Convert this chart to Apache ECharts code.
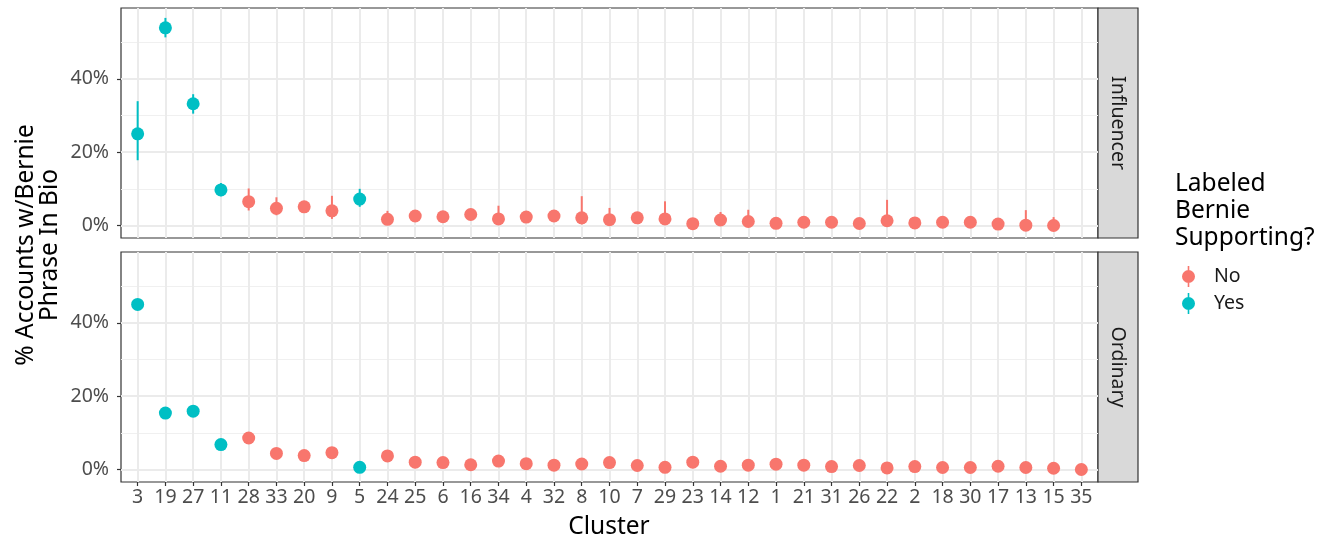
<!DOCTYPE html>
<html style="height: 100%">
<head>
<meta charset="utf-8"/>
<script src="https://cdn.jsdelivr.net/npm/echarts@6/dist/echarts.min.js"></script>
</head>
<body style="height: 100%; margin: 0; background: #fff">
<div id="container" style="width: 1333px; height: 540px"></div>
<script>
// cluster order on the x axis
var categories = ['3','19','27','11','28','33','20','9','5','24','25','6','16','34','4','32','8','10','7','29','23','14','12','1','21','31','26','22','2','18','30','17','13','15','35'];
// clusters labeled as Bernie supporting
var supporting = ['3','19','27','11','5'];

// Influencer panel (%), with interval ends
var influencerPct  = [25.0,53.9,33.2,9.7,6.5,4.7,5.1,4.0,7.2,1.7,2.6,2.4,3.0,1.8,2.3,2.6,2.1,1.6,2.1,1.8,0.5,1.5,1.1,0.6,0.9,0.9,0.55,1.3,0.7,0.9,0.9,0.4,0.1,0.0,null];
var influencerLow  = [17.8,51.3,30.5,8.0,4.1,2.8,4.2,1.8,5.1,0.5,1.8,1.6,2.2,0.6,1.5,1.8,0.3,0.6,1.2,0.4,0.0,0.4,0.2,0.1,0.2,0.2,0.0,0.0,0.1,0.2,0.2,0.0,0.0,0.0,null];
var influencerHigh = [33.9,56.6,35.8,11.6,10.1,7.7,6.2,8.1,10.0,4.0,3.5,3.3,3.9,5.4,3.2,3.5,8.0,4.8,3.0,6.6,1.5,3.7,4.3,1.5,1.8,1.8,1.4,7.0,1.6,1.8,1.8,1.2,4.2,2.3,null];

// Ordinary panel (%), with interval ends
var ordinaryPct  = [45.0,15.4,15.9,6.8,8.6,4.4,3.8,4.6,0.6,3.7,2.0,1.9,1.3,2.3,1.6,1.2,1.5,1.9,1.1,0.6,2.0,0.9,1.2,1.45,1.2,0.8,1.1,0.45,0.8,0.55,0.55,0.9,0.55,0.35,0.0];
var ordinaryLow  = [44.3,14.9,15.4,6.4,8.2,4.1,3.5,4.2,0.4,3.4,1.8,1.7,1.1,2.0,1.4,1.0,1.3,1.6,0.9,0.4,1.7,0.7,1.0,1.2,1.0,0.6,0.9,0.3,0.6,0.4,0.4,0.7,0.4,0.2,0.0];
var ordinaryHigh = [45.7,15.9,16.4,7.2,9.0,4.7,4.1,5.0,0.8,4.0,2.2,2.1,1.5,2.6,1.8,1.4,1.7,2.2,1.3,0.8,2.3,1.1,1.4,1.7,1.4,1.0,1.3,0.6,1.0,0.7,0.7,1.1,0.7,0.5,0.1];

var yTicks = [0, 20, 40];
var yMinorTicks = [10, 30, 50];

var RED = '#F8766D', TEAL = '#00BFC4';
var FONT = 'Noto Sans';
var SMALL = 19.5, BIG = 24.5;

function isYes(i) { return supporting.indexOf(categories[i]) != -1; }

function pointData(values, yes) {
	var arr = [];
	for (var i = 0; i < categories.length; i++) {
		if (values[i] == null) continue;
		if (isYes(i) == yes) arr.push([i, values[i]]);
	}
	return arr;
}

function barData(low, high) {
	var arr = [];
	for (var i = 0; i < categories.length; i++) {
		if (low[i] == null) continue;
		arr.push({ value: [i, low[i], high[i]], itemStyle: { color: isYes(i) ? TEAL : RED } });
	}
	return arr;
}

function renderBar(params, api) {
	var x = api.value(0);
	var p1 = api.coord([x, api.value(1)]);
	var p2 = api.coord([x, api.value(2)]);
	return {
		type: 'line',
		shape: { x1: p1[0], y1: p1[1], x2: p2[0], y2: p2[1] },
		style: { stroke: api.visual('color'), lineWidth: 2 }
	};
}

var xIndexes = categories.map(function (c, i) { return i; });

function xAxisFor(gridIndex, showLabels) {
	return {
		type: 'value', gridIndex: gridIndex, min: -0.6, max: 34.6, position: 'bottom',
		axisLine: { show: false, onZero: false },
		axisTick: { show: showLabels, customValues: xIndexes, length: 4, lineStyle: { color: '#333', width: 1.2 } },
		axisLabel: {
			show: showLabels, customValues: xIndexes, margin: 5,
			fontFamily: FONT, fontSize: SMALL, color: '#4D4D4D',
			formatter: function (v) { return categories[Math.round(v)]; }
		},
		splitLine: { show: true, lineStyle: { color: '#EBEBEB', width: 2 } }
	};
}

function yAxisFor(gridIndex) {
	return {
		type: 'value', gridIndex: gridIndex, min: -3.4, max: 59.3, position: 'left',
		axisLine: { show: false, onZero: false },
		axisTick: { show: true, customValues: yTicks, length: 4, lineStyle: { color: '#333', width: 1.2 } },
		axisLabel: { customValues: yTicks, margin: 12, fontFamily: FONT, fontSize: SMALL, color: '#4D4D4D',
			formatter: function (v) { return v + '%'; } },
		splitLine: { show: true, lineStyle: { color: '#EBEBEB', width: 2 } }
	};
}

function yMinorAxisFor(gridIndex) {
	return {
		type: 'value', gridIndex: gridIndex, min: -3.4, max: 59.3, position: 'left',
		axisLine: { show: false, onZero: false },
		axisTick: { show: false, customValues: yMinorTicks },
		axisLabel: { show: false, customValues: yMinorTicks },
		splitLine: { show: true, lineStyle: { color: '#F0F0F0', width: 1.2 } }
	};
}

var myChart = echarts.init(document.getElementById('container'));

var option = {
	animation: false,
	backgroundColor: '#fff',
	textStyle: { fontFamily: FONT },
	grid: [
		{ left: 121, top: 8, width: 977, height: 230, show: true, borderColor: '#333', borderWidth: 1.2, backgroundColor: '#fff', z: 0 },
		{ left: 121, top: 252, width: 977, height: 230, show: true, borderColor: '#333', borderWidth: 1.2, backgroundColor: '#fff', z: 0 }
	],
	xAxis: [xAxisFor(0, false), xAxisFor(1, true)],
	yAxis: [yAxisFor(0), yMinorAxisFor(0), yAxisFor(1), yMinorAxisFor(1)],
	legend: {
		orient: 'vertical', left: 1182, top: 266, padding: 0, itemGap: 6,
		itemWidth: 13, itemHeight: 21,
		data: [
			{ name: 'No', icon: 'path://M5.7,0h1.6v21h-1.6z M0,10.5a6.5,6.5 0 1,1 13,0a6.5,6.5 0 1,1 -13,0z' },
			{ name: 'Yes', icon: 'path://M5.7,0h1.6v21h-1.6z M0,10.5a6.5,6.5 0 1,1 13,0a6.5,6.5 0 1,1 -13,0z' }
		],
		textStyle: { fontFamily: FONT, fontSize: SMALL, color: '#1A1A1A', padding: [0, 0, 0, 14] }
	},
	series: [
		{ type: 'custom', xAxisIndex: 0, yAxisIndex: 0, renderItem: renderBar, data: barData(influencerLow, influencerHigh), z: 2 },
		{ type: 'scatter', name: 'No', xAxisIndex: 0, yAxisIndex: 0, symbolSize: 13, itemStyle: { color: RED, opacity: 1 }, data: pointData(influencerPct, false), z: 3 },
		{ type: 'scatter', name: 'Yes', xAxisIndex: 0, yAxisIndex: 0, symbolSize: 13, itemStyle: { color: TEAL, opacity: 1 }, data: pointData(influencerPct, true), z: 3 },
		{ type: 'custom', xAxisIndex: 1, yAxisIndex: 2, renderItem: renderBar, data: barData(ordinaryLow, ordinaryHigh), z: 2 },
		{ type: 'scatter', name: 'No', xAxisIndex: 1, yAxisIndex: 2, symbolSize: 13, itemStyle: { color: RED, opacity: 1 }, data: pointData(ordinaryPct, false), z: 3 },
		{ type: 'scatter', name: 'Yes', xAxisIndex: 1, yAxisIndex: 2, symbolSize: 13, itemStyle: { color: TEAL, opacity: 1 }, data: pointData(ordinaryPct, true), z: 3 }
	],
	graphic: [
		// facet strips
		{ type: 'rect', shape: { x: 1098, y: 8, width: 40, height: 230 }, style: { fill: '#D9D9D9', stroke: '#333', lineWidth: 1.2 } },
		{ type: 'text', x: 1118, y: 123, rotation: -Math.PI / 2,
			style: { text: 'Influencer', fontFamily: FONT, fontSize: SMALL, fill: '#1A1A1A', align: 'center', verticalAlign: 'middle' } },
		{ type: 'rect', shape: { x: 1098, y: 252, width: 40, height: 230 }, style: { fill: '#D9D9D9', stroke: '#333', lineWidth: 1.2 } },
		{ type: 'text', x: 1118, y: 367, rotation: -Math.PI / 2,
			style: { text: 'Ordinary', fontFamily: FONT, fontSize: SMALL, fill: '#1A1A1A', align: 'center', verticalAlign: 'middle' } },
		// axis titles
		{ type: 'text', x: 38, y: 245, rotation: Math.PI / 2,
			style: { text: '% Accounts w/Bernie\nPhrase In Bio', fontFamily: FONT, fontSize: BIG, lineHeight: 24, fill: '#000', align: 'center', verticalAlign: 'middle' } },
		{ type: 'text', x: 609, y: 527,
			style: { text: 'Cluster', fontFamily: FONT, fontSize: BIG, fill: '#000', align: 'center', verticalAlign: 'middle' } },
		// legend title
		{ type: 'text', x: 1175, y: 171,
			style: { text: 'Labeled\nBernie\nSupporting?', fontFamily: FONT, fontSize: BIG, lineHeight: 27, fill: '#000', align: 'left', verticalAlign: 'top' } }
	]
};

myChart.setOption(option, true);
</script>
</body>
</html>
